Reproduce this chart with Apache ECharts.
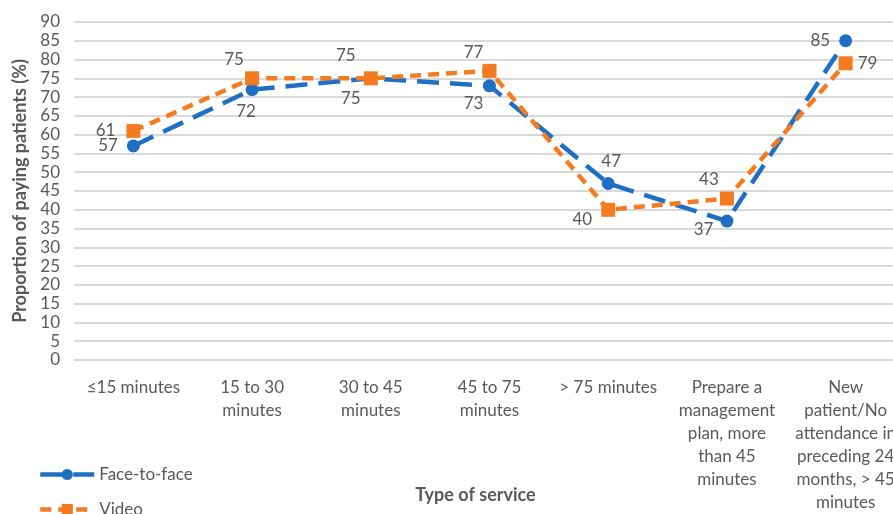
<!DOCTYPE html>
<html>
<head>
<meta charset="utf-8">
<script src="https://cdn.jsdelivr.net/npm/echarts@6/dist/echarts.min.js"></script>
<style>
  html, body { margin: 0; padding: 0; background: #fff; }
  #chart { width: 893px; height: 514px; }
</style>
</head>
<body>
<div id="chart"></div>
<script>
// data
var categories = [
  '\u226415 minutes',
  '15 to 30\nminutes',
  '30 to 45\nminutes',
  '45 to 75\nminutes',
  '> 75 minutes',
  'Prepare a\nmanagement\nplan, more\nthan 45\nminutes',
  'New\npatient/No\nattendance in\npreceding 24\nmonths, > 45\nminutes'
]
var faceToFace = [57, 72, 75, 73, 47, 37, 85]
var video = [61, 75, 75, 77, 40, 43, 79]
var yTicks = { min: 0, max: 90, interval: 5 }

// label placement [position, offset] per point
var ftfLabels = [
  ['left', [-4, 0]], ['bottom', [-6, 2]], ['bottom', [-20, 0]], ['bottom', [-16, -2]],
  ['top', [3, -2]], ['left', [-2, 8]], ['left', [-4, 0]]
]
var videoLabels = [
  ['left', [-6, 0]], ['top', [-18, 2]], ['top', [-25, -2]], ['top', [-16, 2]],
  ['left', [-4, 10]], ['top', [-18, 2]], ['right', [0, 0]]
]

var font = 'Lato, "Open Sans", sans-serif'
var grey = '#595959'

function buildData(values, labels) {
  return values.map(function(v, i) {
    return {
      value: v,
      label: { position: labels[i][0], offset: labels[i][1] }
    }
  })
}

var chart = echarts.init(document.getElementById('chart'), null, { renderer: 'canvas' })

chart.setOption({
  animation: false,
  textStyle: { fontFamily: font },
  grid: {
    left: 74,
    top: 22,
    width: 831,
    height: 338,
    containLabel: false,
    outerBoundsMode: 'none'
  },
  legend: {
    orient: 'vertical',
    left: 38,
    top: 466,
    height: 80,
    padding: 0,
    itemWidth: 54,
    itemHeight: 14,
    itemGap: 18,
    lineStyle: { width: 4.5 },
    textStyle: { color: grey, fontSize: 17, fontFamily: font },
    data: ['Face-to-face', 'Video']
  },
  xAxis: {
    type: 'category',
    data: categories,
    boundaryGap: true,
    name: 'Type of service',
    nameLocation: 'middle',
    nameGap: 126,
    nameMoveOverlap: false,
    nameTextStyle: { color: grey, fontSize: 18, fontWeight: 'bold', fontFamily: font, padding: [0, 28, 0, 0] },
    axisLine: { show: false },
    axisTick: { show: false },
    axisLabel: {
      color: grey,
      fontSize: 17,
      fontFamily: font,
      margin: 16,
      lineHeight: 23,
      interval: 0
    }
  },
  yAxis: {
    type: 'value',
    min: yTicks.min,
    max: yTicks.max,
    interval: yTicks.interval,
    name: 'Proportion of paying patients (%)',
    nameLocation: 'middle',
    nameGap: 45,
    nameRotate: 90,
    nameMoveOverlap: false,
    nameTextStyle: { color: grey, fontSize: 18, fontWeight: 'bold', fontFamily: font },
    axisLine: { show: false },
    axisTick: { show: false },
    axisLabel: { color: grey, fontSize: 17, fontFamily: font, margin: 14 },
    splitLine: { lineStyle: { color: '#d9d9d9', width: 2 } }
  },
  series: [
    {
      name: 'Face-to-face',
      type: 'line',
      data: buildData(faceToFace, ftfLabels),
      symbol: 'circle',
      symbolSize: 13,
      itemStyle: { color: '#1f6fc5' },
      lineStyle: { color: '#1f6fc5', width: 4.5, type: [22, 11] },
      label: { show: true, color: grey, fontSize: 17, fontFamily: font }
    },
    {
      name: 'Video',
      type: 'line',
      data: buildData(video, videoLabels),
      symbol: 'rect',
      symbolSize: 14,
      itemStyle: { color: '#f47b20' },
      lineStyle: { color: '#f47b20', width: 4.5, type: [11, 7] },
      label: { show: true, color: grey, fontSize: 17, fontFamily: font }
    }
  ]
})
</script>
</body>
</html>
